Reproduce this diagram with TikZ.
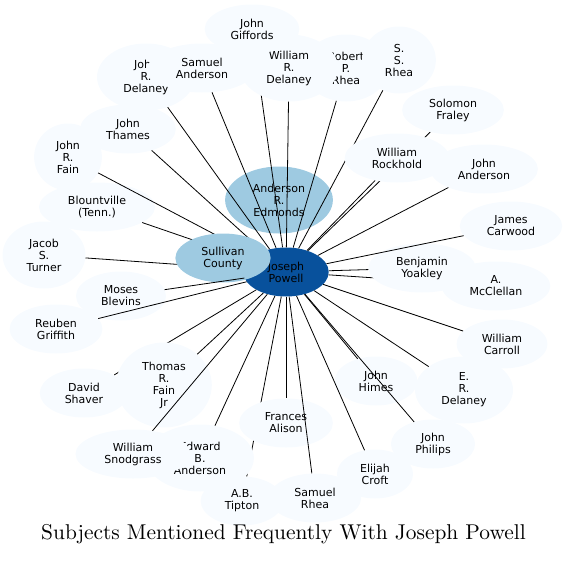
\documentclass[tikz,border=0pt]{standalone}
\usepackage{fontspec}
\usepackage{tikz}
\usetikzlibrary{shapes.geometric,backgrounds}
\newfontfamily\labelfont{DejaVu Sans}
\definecolor{bluesone}{HTML}{F7FBFF}
\definecolor{bluesfour}{HTML}{9ECAE1}
\definecolor{blueseight}{HTML}{08519C}

\begin{document}
\begin{tikzpicture}[x=1pt,y=-1pt,
  person/.style={ellipse,fill=bluesone,inner xsep=12pt,inner ysep=0pt,
                 minimum height=49pt,align=center,
                 font=\labelfont\fontsize{11}{12}\selectfont},
  three/.style={minimum height=67pt},
  four/.style={minimum height=85pt},
  hub/.style={person,fill=bluesfour},
  focus/.style={person,fill=blueseight},
  link/.style={draw=black,line width=0.8pt}]
  \useasboundingbox (0,0) rectangle (567,562);
  \node[focus] (powell) at (286,272) {Joseph\\Powell};
  \begin{pgfonlayer}{background}
    \node[hub,three] (edmonds) at (279,200) {Anderson\\R.\\Edmonds};
  \end{pgfonlayer}
  \node[person,three] (jrdelaney) at (146,77) {John\\R.\\Delaney};
  \node[person] (samanderson) at (202,68) {Samuel\\Anderson};
  \node[person,three] (rprhea) at (346,68) {Robert\\P.\\Rhea};
  \node[person,three] (ssrhea) at (399,60) {S.\\S.\\Rhea};
  \draw[link] (powell) -- (jrdelaney);
  \draw[link] (powell) -- (samanderson);
  \draw[link] (powell) -- (rprhea);
  \draw[link] (powell) -- (ssrhea);
  \node[person,three] (wrdelaney) at (289,68) {William\\R.\\Delaney};
  \draw[link] (powell) -- (wrdelaney);
  \node[person] (giffords) at (252,29) {John\\Giffords};
  \begin{pgfonlayer}{background}
    \draw[link] (powell) -- (giffords);
  \end{pgfonlayer}

  \node[person] (thames) at (128,129) {John\\Thames};
  \node[person,three] (jfain) at (68,157) {John\\R.\\Fain};
  \node[person] (blountville) at (97,207) {Blountville\\(Tenn.)};
  \node[person,three] (turner) at (44,255) {Jacob\\S.\\Turner};
  \draw[link] (powell) -- (thames);
  \draw[link] (powell) -- (jfain);
  \draw[link] (powell) -- (blountville);
  \draw[link] (powell) -- (turner);
  \node[hub] (sullivan) at (223,258) {Sullivan\\County};
  \node[person] (blevins) at (121,296) {Moses\\Blevins};
  \draw[link] (powell) -- (blevins);
  \node[person] (griffith) at (56,329) {Reuben\\Griffith};
  \draw[link] (powell) -- (griffith);

  \node[person] (fraley) at (453,110) {Solomon\\Fraley};
  \draw[link] (powell) -- (fraley);
  \node[person] (rockhold) at (397,158) {William\\Rockhold};
  \draw[link] (powell) -- (rockhold);
  \node[person] (janderson) at (484,169) {John\\Anderson};
  \draw[link] (powell) -- (janderson);
  \node[person] (mcclellan) at (496,286) {A.\\McClellan};
  \draw[link] (powell) -- (mcclellan);
  \node[person] (yoakley) at (422,268) {Benjamin\\Yoakley};
  \draw[link] (powell) -- (yoakley);
  \node[person] (carwood) at (511,226) {James\\Carwood};
  \draw[link] (powell) -- (carwood);
  \node[person] (carroll) at (502,344) {William\\Carroll};
  \draw[link] (powell) -- (carroll);
  \node[person,three] (erdelaney) at (464,390) {E.\\R.\\Delaney};
  \draw[link] (powell) -- (erdelaney);
  \node[person] (himes) at (376,381) {John\\Himes};
  \draw[link] (powell) -- (himes);
  \node[person] (philips) at (433,444) {John\\Philips};
  \draw[link] (powell) -- (philips);
  \node[person] (croft) at (375,474) {Elijah\\Croft};
  \draw[link] (powell) -- (croft);

  \node[person] (tipton) at (242,501) {A.B.\\Tipton};
  \draw[link] (powell) -- (tipton);
  \node[person] (alison) at (286,423) {Frances\\Alison};
  \draw[link] (powell) -- (alison);
  \node[person,three] (ebanderson) at (200,458) {Edward\\B.\\Anderson};
  \draw[link] (powell) -- (ebanderson);
  \node[person] (shaver) at (84,393) {David\\Shaver};
  \draw[link] (powell) -- (shaver);
  \node[person,four] (tfain) at (164,385) {Thomas\\R.\\Fain\\Jr};
  \draw[link] (powell) -- (tfain);
  \node[person] (snodgrass) at (133,454) {William\\Snodgrass};
  \draw[link] (powell) -- (snodgrass);
  \node[person] (srhea) at (315,498) {Samuel\\Rhea};
  \draw[link] (powell) -- (srhea);

  \node[anchor=base] (title) at (283.5,539)
    {\scalebox{2.14}{Subjects Mentioned Frequently With Joseph Powell}};
\end{tikzpicture}
\end{document}
